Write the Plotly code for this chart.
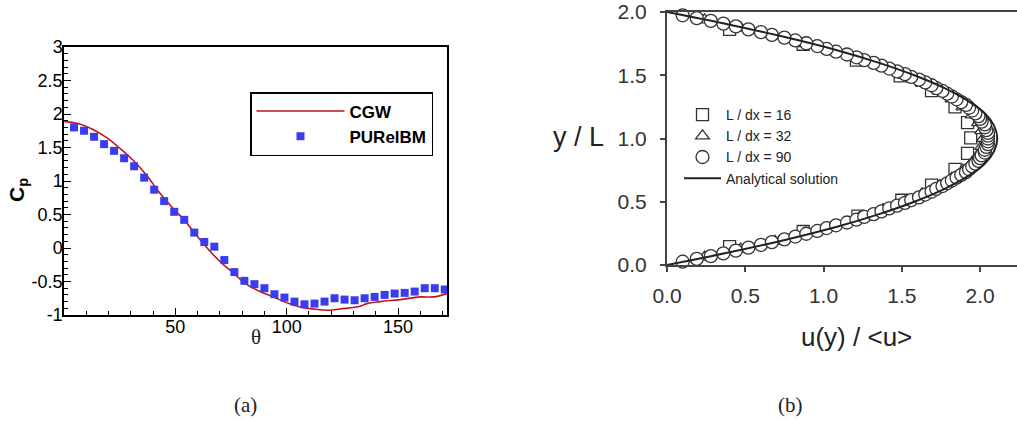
import plotly.graph_objects as go

# ---------- panel (a) data ----------
cgw_theta = [0, 7, 13, 19, 25, 31, 37, 43, 49, 54, 58, 63, 67, 72, 76, 81, 88, 94, 101,
             106, 112, 119, 124, 133, 136, 142, 151, 160, 166, 172]
cgw_cp = [1.89, 1.85, 1.77, 1.65, 1.49, 1.31, 1.09, 0.82, 0.59, 0.42, 0.25, 0.05, -0.10,
          -0.26, -0.37, -0.52, -0.65, -0.73, -0.83, -0.88, -0.91, -0.93, -0.91, -0.87,
          -0.83, -0.80, -0.77, -0.73, -0.73, -0.68]

ibm_theta = [4.5, 9, 13.5, 18, 22.5, 27, 31.5, 36, 40.5, 45, 49.5, 54, 58.5, 63, 67.5, 72,
             76.5, 81, 85.5, 90, 94.5, 99, 103.5, 108, 112.5, 117, 121.5, 126, 130.5, 135,
             139.5, 144, 148.5, 153, 157.5, 162, 166.5, 171]
ibm_cp = [1.80, 1.75, 1.66, 1.55, 1.45, 1.34, 1.22, 1.05, 0.87, 0.70, 0.54, 0.42, 0.23, 0.09,
          0.02, -0.18, -0.36, -0.49, -0.54, -0.60, -0.69, -0.74, -0.80, -0.84, -0.83, -0.80,
          -0.75, -0.77, -0.78, -0.75, -0.73, -0.70, -0.68, -0.67, -0.65, -0.60, -0.60, -0.62]

# ---------- panel (b) data ----------
sq_u = [0.40, 0.87, 1.22, 1.50, 1.69, 1.84, 1.92, 1.94, 1.92, 1.84, 1.69, 1.49, 1.21, 0.87, 0.40]
sq_y = [0.145, 0.265, 0.387, 0.512, 0.632, 0.756, 0.883, 1.005, 1.125, 1.250, 1.378, 1.495,
        1.620, 1.745, 1.862]

tri_y = [0.0625, 0.125, 0.1875, 0.25, 0.3125, 0.375, 0.4375, 0.5, 0.5625, 0.625, 0.6875, 0.75,
         0.8125, 0.875, 0.9375, 1.0, 1.0625, 1.125, 1.1875, 1.25, 1.3125, 1.375, 1.4375, 1.5,
         1.5625, 1.625, 1.6875, 1.75, 1.8125, 1.875, 1.9375]
tri_u = [0.24, 0.47, 0.69, 0.88, 1.07, 1.23, 1.38, 1.52, 1.63, 1.74, 1.82, 1.89, 1.95, 1.99,
         2.01, 2.02, 2.01, 1.99, 1.95, 1.89, 1.82, 1.74, 1.63, 1.52, 1.38, 1.23, 1.07, 0.88,
         0.69, 0.47, 0.24]

circ_y = [0.026, 0.048, 0.070, 0.092, 0.114, 0.137, 0.159, 0.181, 0.203, 0.225, 0.247, 0.269,
          0.292, 0.314, 0.336, 0.358, 0.380, 0.402, 0.424, 0.447, 0.469, 0.491, 0.513, 0.535,
          0.557, 0.579, 0.602, 0.624, 0.646, 0.668, 0.690, 0.712, 0.734, 0.757, 0.779, 0.801,
          0.823, 0.845, 0.867, 0.889, 0.911, 0.934, 0.956, 0.978, 1.000, 1.022, 1.044, 1.066,
          1.089, 1.111, 1.133, 1.155, 1.177, 1.199, 1.221, 1.243, 1.266, 1.288, 1.310, 1.332,
          1.354, 1.376, 1.398, 1.421, 1.443, 1.465, 1.487, 1.509, 1.531, 1.553, 1.576, 1.598,
          1.620, 1.642, 1.664, 1.686, 1.708, 1.731, 1.753, 1.775, 1.797, 1.819, 1.841, 1.863,
          1.886, 1.908, 1.930, 1.952, 1.974]
circ_u = [0.10, 0.19, 0.28, 0.36, 0.44, 0.52, 0.60, 0.67, 0.75, 0.82, 0.89, 0.96, 1.02, 1.08,
          1.15, 1.21, 1.26, 1.32, 1.37, 1.42, 1.47, 1.52, 1.56, 1.61, 1.65, 1.69, 1.72, 1.76,
          1.79, 1.82, 1.85, 1.88, 1.91, 1.93, 1.95, 1.97, 1.99, 2.00, 2.01, 2.03, 2.03, 2.04,
          2.05, 2.05, 2.05, 2.05, 2.05, 2.04, 2.03, 2.03, 2.01, 2.00, 1.99, 1.97, 1.95, 1.93,
          1.91, 1.88, 1.85, 1.82, 1.79, 1.76, 1.72, 1.69, 1.65, 1.61, 1.56, 1.52, 1.47, 1.42,
          1.37, 1.32, 1.26, 1.21, 1.15, 1.08, 1.02, 0.96, 0.89, 0.82, 0.75, 0.67, 0.60, 0.52,
          0.44, 0.36, 0.28, 0.19, 0.10]

ana_y = [0.0, 0.1, 0.2, 0.3, 0.4, 0.5, 0.6, 0.7, 0.8, 0.9, 1.0, 1.1, 1.2, 1.3, 1.4, 1.5, 1.6,
         1.7, 1.8, 1.9, 2.0]
ana_u = [0.0, 0.40, 0.76, 1.08, 1.35, 1.58, 1.77, 1.92, 2.03, 2.09, 2.11, 2.09, 2.03, 1.92,
         1.77, 1.58, 1.35, 1.08, 0.76, 0.40, 0.0]

left_yticks = [-1, -0.5, 0, 0.5, 1, 1.5, 2, 2.5, 3]
left_yticktext = ["-1", "-0.5", "0", "0.5", "1", "1.5", "2", "2.5", "3"]
left_xticks = [50, 100, 150]
right_ticks = [0.0, 0.5, 1.0, 1.5, 2.0]
right_ticktext = ["0.0", "0.5", "1.0", "1.5", "2.0"]

SANS = "Liberation Sans, Arial, sans-serif"
SERIF = "Liberation Serif, Times New Roman, serif"
W, H = 1017, 421


def px_x(p):
    return p / W


def px_y(p):
    return 1 - p / H


fig = go.Figure()

fig.add_trace(go.Scatter(x=cgw_theta, y=cgw_cp, mode="lines", name="CGW",
                         line=dict(color="#c0141c", width=1.6, shape="spline"),
                         xaxis="x", yaxis="y", legend="legend"))
fig.add_trace(go.Scatter(x=ibm_theta, y=ibm_cp, mode="markers", name="PURelBM",
                         marker=dict(symbol="square", size=8, color="#3a3cf0"),
                         cliponaxis=False, xaxis="x", yaxis="y", legend="legend"))

mk_line = dict(color="#333333", width=1.3)
fig.add_trace(go.Scatter(x=sq_u, y=sq_y, mode="markers", name="L / dx = 16",
                         marker=dict(symbol="square", size=12, color="white", line=mk_line),
                         cliponaxis=False, xaxis="x2", yaxis="y2", legend="legend2"))
fig.add_trace(go.Scatter(x=tri_u, y=tri_y, mode="markers", name="L / dx = 32",
                         marker=dict(symbol="triangle-up", size=12, color="white", line=mk_line),
                         cliponaxis=False, xaxis="x2", yaxis="y2", legend="legend2"))
fig.add_trace(go.Scatter(x=circ_u, y=circ_y, mode="markers", name="L / dx = 90",
                         marker=dict(symbol="circle", size=13, color="white", line=mk_line),
                         cliponaxis=False, xaxis="x2", yaxis="y2", legend="legend2"))
fig.add_trace(go.Scatter(x=ana_u, y=ana_y, mode="lines", name="Analytical solution",
                         line=dict(color="#222222", width=2, shape="spline"),
                         cliponaxis=False, xaxis="x2", yaxis="y2", legend="legend2"))


def ann(text, x, y, font, angle=0):
    return dict(text=text, x=px_x(x), y=px_y(y), xref="paper", yref="paper",
                xanchor="center", yanchor="middle", showarrow=False,
                textangle=angle, font=font)


fig.update_layout(
    width=W, height=H,
    margin=dict(l=0, r=0, t=0, b=0, pad=0, autoexpand=False),
    paper_bgcolor="white", plot_bgcolor="white",
    showlegend=True,
    xaxis=dict(domain=[px_x(64), px_x(447)], range=[0, 172], showgrid=False, zeroline=False,
               automargin=False,
               showline=True, linecolor="black", linewidth=1.5, mirror=True,
               ticks="inside", ticklen=7, tickcolor="black", tickwidth=1.2,
               tickmode="array", tickvals=left_xticks, ticklabelstandoff=-5,
               minor=dict(tickmode="linear", tick0=0, dtick=10, ticks="inside", ticklen=4,
                          tickcolor="black", showgrid=False),
               tickfont=dict(family=SANS, size=18, color="black")),
    yaxis=dict(domain=[px_y(315), px_y(47)], range=[-1, 3], showgrid=False, zeroline=False,
               automargin=False,
               showline=True, linecolor="black", linewidth=1.5, mirror=True,
               ticks="inside", ticklen=7, tickcolor="black", tickwidth=1.2,
               tickmode="array", tickvals=left_yticks, ticktext=left_yticktext,
               ticklabelstandoff=-4,
               minor=dict(tickmode="linear", tick0=0, dtick=0.1, ticks="inside", ticklen=4,
                          tickcolor="black", showgrid=False),
               tickfont=dict(family=SANS, size=18, color="black")),
    xaxis2=dict(domain=[px_x(667), 1.0], range=[0, 2.236], showgrid=False, zeroline=False,
                automargin=False,
                showline=True, linecolor="#444444", linewidth=2, mirror=True,
                ticks="outside", ticklen=5, tickcolor="#444444", tickwidth=1.5,
                tickmode="array", tickvals=right_ticks, ticktext=right_ticktext,
                ticklabelstandoff=6,
                tickfont=dict(family=SANS, size=21, color="#333333"), anchor="y2"),
    yaxis2=dict(domain=[px_y(265), px_y(12)], range=[0, 2], showgrid=False, zeroline=False,
                automargin=False,
                showline=True, linecolor="#444444", linewidth=2, mirror=False,
                ticks="outside", ticklen=5, tickcolor="#444444", tickwidth=1.5,
                tickmode="array", tickvals=right_ticks, ticktext=right_ticktext,
                ticklabelstandoff=9,
                tickfont=dict(family=SANS, size=21, color="#333333"), anchor="x2"),
    legend=dict(x=px_x(250), y=px_y(92), xanchor="left", yanchor="top",
                bordercolor="black", borderwidth=1.5, bgcolor="white",
                font=dict(family=SANS, size=17, color="black", weight="bold"),
                itemwidth=88, tracegroupgap=0),
    legend2=dict(x=px_x(679), y=px_y(99), xanchor="left", yanchor="top",
                 borderwidth=0, bgcolor="rgba(0,0,0,0)",
                 font=dict(family=SANS, size=14, color="#222222"),
                 itemwidth=37, tracegroupgap=0),
    annotations=[
        ann("C<sub>p</sub>", 18, 190, dict(family=SANS, size=21, color="black", weight="bold"),
            angle=-90),
        ann("θ", 256, 337, dict(family=SERIF, size=21, color="#222222")),
        ann("y / L", 578, 137, dict(family=SANS, size=27, color="#222222")),
        ann("u(y) / &lt;u&gt;", 856, 337, dict(family=SANS, size=26, color="#222222")),
        ann("(a)", 245, 405, dict(family=SERIF, size=21, color="#222222")),
        ann("(b)", 790, 405, dict(family=SERIF, size=21, color="#222222")),
    ],
)

fig.write_html("out.html", config={"displayModeBar": False},
               post_script="document.body.style.margin='0px';")
